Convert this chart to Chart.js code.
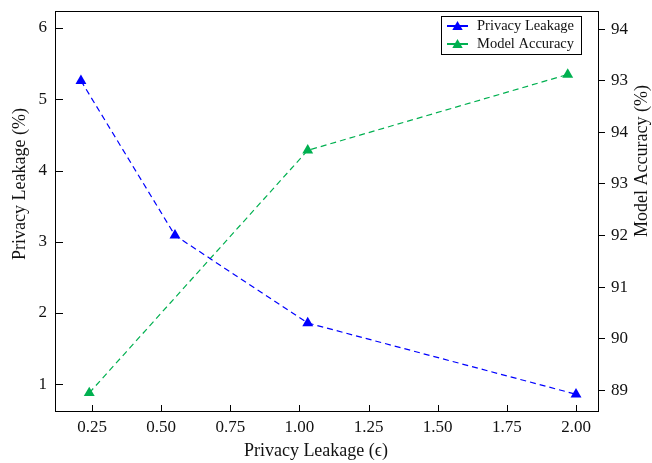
<!DOCTYPE html>
<html>
<head>
<meta charset="utf-8">
<script src="https://cdn.jsdelivr.net/npm/chart.js"></script>
<style>
  html, body { margin: 0; padding: 0; background: #fff; }
  #wrap { width: 652px; height: 463px; }
</style>
</head>
<body>
<div id="wrap"><canvas id="chart" width="652" height="463"></canvas></div>
<script>
// values
const leakX = [0.21, 0.55, 1.03, 2.00];
const leakValues = [5.26, 3.09, 1.86, 0.86];
const accX = [0.24, 1.03, 1.97];
const accValues = [88.95, 93.65, 95.12];

const xTicks = [0.25, 0.50, 0.75, 1.00, 1.25, 1.50, 1.75, 2.00];
const leftTicks = [1, 2, 3, 4, 5, 6];
const rightTicks = [89, 90, 91, 92, 93, 94, 95, 96];
const rightTickLabels = ['89', '90', '91', '92', '93', '94', '93', '94'];

const FONT = '"Liberation Serif", "Times New Roman", serif';
const BLUE = '#0000ff';
const GREEN = '#00b050';

function tri(ctx, x, y, r) {
  ctx.beginPath();
  ctx.moveTo(x, y - r);
  ctx.lineTo(x + r * Math.sin(Math.PI / 3), y + r / 2);
  ctx.lineTo(x - r * Math.sin(Math.PI / 3), y + r / 2);
  ctx.closePath();
  ctx.fill();
}

// keep label overflow from pushing the plot area around
function noPad(s) {
  s.paddingTop = 0; s.paddingBottom = 0; s.paddingLeft = 0; s.paddingRight = 0;
}

// frame, inward ticks, titles and the boxed legend
const framePlugin = {
  id: 'frame',
  afterDraw(chart) {
    const { ctx, chartArea: a, scales } = chart;
    ctx.save();
    ctx.strokeStyle = '#000';
    ctx.lineWidth = 1;
    ctx.strokeRect(Math.round(a.left) + 0.5, Math.round(a.top) + 0.5,
      Math.round(a.right - a.left), Math.round(a.bottom - a.top));
    ctx.beginPath();
    xTicks.forEach(v => {
      const px = Math.round(scales.x.getPixelForValue(v)) + 0.5;
      ctx.moveTo(px, a.bottom);
      ctx.lineTo(px, a.bottom - 6);
    });
    leftTicks.forEach(v => {
      const py = Math.round(scales.y.getPixelForValue(v)) + 0.5;
      ctx.moveTo(a.left, py);
      ctx.lineTo(a.left + 8, py);
    });
    ctx.stroke();

    // axis titles
    ctx.fillStyle = '#111';
    ctx.font = '18px ' + FONT;
    ctx.textAlign = 'center';
    ctx.textBaseline = 'middle';
    ctx.fillText('Privacy Leakage (\u03f5)', 316, 451);
    ctx.save();
    ctx.translate(20, 184);
    ctx.rotate(-Math.PI / 2);
    ctx.fillText('Privacy Leakage (%)', 0, 0);
    ctx.restore();
    ctx.save();
    ctx.translate(642, 161);
    ctx.rotate(-Math.PI / 2);
    ctx.fillText('Model Accuracy (%)', 0, 0);
    ctx.restore();

    // legend
    ctx.strokeRect(441.5, 16.5, 140, 38);
    const rows = [26, 44];
    ctx.font = '14.5px ' + FONT;
    ctx.textAlign = 'left';
    chart.data.datasets.forEach((ds, i) => {
      const y = rows[i];
      ctx.strokeStyle = ds.borderColor;
      ctx.lineWidth = 2;
      ctx.beginPath();
      ctx.moveTo(447, y);
      ctx.lineTo(468, y);
      ctx.stroke();
      ctx.fillStyle = ds.borderColor;
      tri(ctx, 457.5, y + 1, 6);
      ctx.fillStyle = '#111';
      ctx.fillText(ds.label, 477, y);
    });
    ctx.restore();
  }
};

new Chart(document.getElementById('chart').getContext('2d'), {
  type: 'line',
  data: {
    datasets: [
      {
        label: 'Privacy Leakage',
        data: leakX.map((x, i) => ({ x, y: leakValues[i] })),
        yAxisID: 'y',
        borderColor: BLUE,
        backgroundColor: BLUE,
        borderWidth: 1.2,
        borderDash: [6, 4],
        pointStyle: 'triangle',
        pointRadius: 6.3,
        pointBorderWidth: 0,
        fill: false,
        tension: 0
      },
      {
        label: 'Model Accuracy',
        data: accX.map((x, i) => ({ x, y: accValues[i] })),
        yAxisID: 'y1',
        borderColor: GREEN,
        backgroundColor: GREEN,
        borderWidth: 1.2,
        borderDash: [6, 4],
        pointStyle: 'triangle',
        pointRadius: 6.3,
        pointBorderWidth: 0,
        fill: false,
        tension: 0
      }
    ]
  },
  options: {
    responsive: false,
    animation: false,
    devicePixelRatio: 1,
    layout: { padding: { top: 11, left: 0, right: 0, bottom: 0 } },
    plugins: { legend: { display: false }, tooltip: { enabled: false } },
    scales: {
      x: {
        type: 'linear',
        min: 0.1162,
        max: 2.0795,
        afterBuildTicks: s => { s.ticks = xTicks.map(v => ({ value: v })); },
        afterFit: s => { s.height = 52; noPad(s); },
        grid: { display: false, drawTicks: false },
        border: { display: false },
        ticks: {
          padding: 6,
          color: '#111',
          font: { family: FONT, size: 17 },
          maxRotation: 0,
          callback: v => v.toFixed(2)
        }
      },
      y: {
        type: 'linear',
        position: 'left',
        min: 0.625,
        max: 6.239,
        afterBuildTicks: s => { s.ticks = leftTicks.map(v => ({ value: v })); },
        afterFit: s => { s.width = 55; noPad(s); },
        grid: { display: false, drawTicks: false },
        border: { display: false },
        ticks: {
          padding: 8,
          color: '#111',
          font: { family: FONT, size: 17 }
        }
      },
      y1: {
        type: 'linear',
        position: 'right',
        min: 88.6,
        max: 96.35,
        afterBuildTicks: s => { s.ticks = rightTicks.map(v => ({ value: v })); },
        afterFit: s => { s.width = 54; noPad(s); },
        grid: { drawOnChartArea: false, drawTicks: true, tickLength: 7, color: '#000', lineWidth: 1 },
        border: { display: false },
        ticks: {
          padding: 6,
          color: '#111',
          font: { family: FONT, size: 17 },
          callback: (v, i) => rightTickLabels[i]
        }
      }
    }
  },
  plugins: [framePlugin]
});
</script>
</body>
</html>
